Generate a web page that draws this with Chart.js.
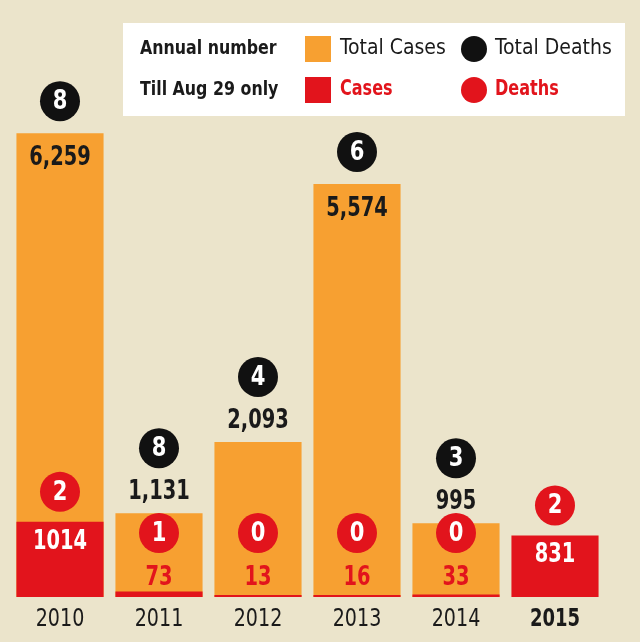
<!DOCTYPE html>
<html>
<head>
<meta charset="utf-8">
<script src="https://cdn.jsdelivr.net/npm/chart.js@4"></script>
<style>
  html, body { margin: 0; padding: 0; background: #ebe4cb; }
  #wrap { width: 640px; height: 642px; position: relative; }
</style>
</head>
<body>
<div id="wrap"><canvas id="chart" width="640" height="642"></canvas></div>
<script>
// annual totals vs. cases till Aug 29
const years = ['2010', '2011', '2012', '2013', '2014', '2015']
const totalCases = [6259, 1131, 2093, 5574, 995, null]
const totalDeaths = [8, 8, 4, 6, 3, null]
const augCases = [1014, 73, 13, 16, 33, 831]
const augDeaths = [2, 1, 0, 0, 0, 2]

const ORANGE = '#f7a031'
const RED = '#e2141c'
const INK = '#1a1a1a'
const FONT = '"DejaVu Sans Condensed", "Open Sans", sans-serif'

function fmt(v) { return v.toLocaleString('en-US') }

// text squeezed horizontally, the source uses a narrow face
function text(ctx, str, x, y, font, color, align, sx) {
  ctx.save()
  ctx.translate(x, y)
  ctx.scale(sx || 1, 1)
  ctx.font = font
  ctx.fillStyle = color
  ctx.textAlign = align || 'center'
  ctx.textBaseline = 'middle'
  ctx.fillText(str, 0, 0)
  ctx.restore()
}

function circle(ctx, x, y, r, fill, label) {
  ctx.beginPath()
  ctx.arc(x, y, r, 0, Math.PI * 2)
  ctx.fillStyle = fill
  ctx.fill()
  if (label != null) text(ctx, label, x, y + 1, 'bold 26px ' + FONT, '#fff', 'center', 0.9)
}

const annotate = {
  id: 'annotate',
  afterDatasetsDraw(chart) {
    const { ctx, scales } = chart
    const x = scales.x, y = scales.y
    const base = y.getPixelForValue(0)
    ctx.save()

    years.forEach((yr, i) => {
      const cx = x.getPixelForValue(i)

      // annual totals
      if (totalCases[i] != null) {
        const top = y.getPixelForValue(totalCases[i])
        const inside = base - top > 250
        const ly = inside ? top + 25 : top - 21
        text(ctx, fmt(totalCases[i]), cx, ly, 'bold 27px ' + FONT, INK, 'center', 0.8)
        circle(ctx, cx, inside ? top - 32 : ly - 44, 20, '#111', String(totalDeaths[i]))
      }

      // till Aug 29
      const rtop = y.getPixelForValue(augCases[i])
      const big = base - rtop > 40
      const ry = big ? rtop + 20 : base - 19
      text(ctx, String(augCases[i]), cx, ry, 'bold 27px ' + FONT, big ? '#fff' : RED, 'center', 0.8)
      circle(ctx, cx, big ? rtop - 30 : ry - 45, 20, RED, String(augDeaths[i]))

      // year label
      const last = i === years.length - 1
      text(ctx, yr, cx, base + 22, (last ? 'bold ' : '') + '25px ' + FONT, INK, 'center', last ? 0.8 : 0.85)
    })

    // legend box
    ctx.fillStyle = '#fff'
    ctx.fillRect(123, 23, 502, 93)
    const rows = [
      { y: 49, head: 'Annual number', sq: ORANGE, sqText: 'Total Cases', dot: '#111', dotText: 'Total Deaths', color: INK, weight: '', sx: 1 },
      { y: 90, head: 'Till Aug 29 only', sq: RED, sqText: 'Cases', dot: RED, dotText: 'Deaths', color: RED, weight: 'bold ', sx: 0.85 }
    ]
    rows.forEach((r) => {
      text(ctx, r.head, 140, r.y, 'bold 20px ' + FONT, INK, 'left', 0.88)
      ctx.fillStyle = r.sq
      ctx.fillRect(305, r.y - 13, 26, 26)
      text(ctx, r.sqText, 340, r.y, r.weight + '21px ' + FONT, r.color, 'left', r.sx)
      circle(ctx, 474, r.y, 13, r.dot, null)
      text(ctx, r.dotText, 495, r.y, r.weight + '21px ' + FONT, r.color, 'left', r.sx)
    })
    ctx.restore()
  }
}

new Chart(document.getElementById('chart'), {
  type: 'bar',
  data: {
    labels: years,
    datasets: [
      { label: 'Cases', data: augCases, backgroundColor: RED, order: 0, minBarLength: 2 },
      { label: 'Total Cases', data: totalCases, backgroundColor: ORANGE, order: 1 }
    ]
  },
  options: {
    responsive: false,
    animation: false,
    layout: { padding: { left: 10.5, right: 35.5, top: 19, bottom: 45 } },
    datasets: { bar: { categoryPercentage: 1, barPercentage: 0.88 } },
    scales: {
      x: { display: false, stacked: true },
      y: { display: false, stacked: false, min: 0, max: 7800 }
    },
    plugins: { legend: { display: false }, tooltip: { enabled: false } }
  },
  plugins: [annotate]
})
</script>
</body>
</html>
